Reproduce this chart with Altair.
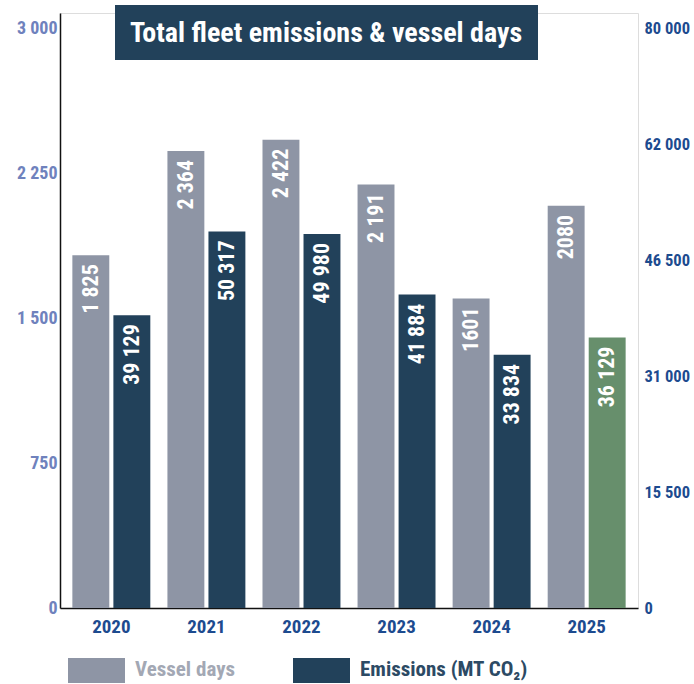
import altair as alt
import pandas as pd

# ---- data -------------------------------------------------------------
YEARS = ["2020", "2021", "2022", "2023", "2024", "2025"]
VESSEL_DAYS = [1825, 2364, 2422, 2191, 1601, 2080]
VESSEL_LABELS = ["1 825", "2 364", "2 422", "2 191", "1601", "2080"]
EMISSIONS = [39129, 50317, 49980, 41884, 33834, 36129]
EMISSION_LABELS = ["39 129", "50 317", "49 980", "41 884", "33 834", "36 129"]
SERIES = ["Vessel days", "Emissions (MT CO₂)"]

LEFT_TICKS = [0, 750, 1500, 2250, 3000]
RIGHT_TICKS = [0, 15500, 31000, 46500, 62000, 77500]
RIGHT_TOP_LABEL = "80 000"
TITLE = "Total fleet emissions & vessel days"
CURRENT_YEAR = "2025"

# ---- style ------------------------------------------------------------
FONT = "'Roboto Condensed', 'Liberation Sans Narrow', 'DejaVu Sans Condensed', sans-serif"
GREY = "#8e95a5"
NAVY = "#22415a"
GREEN = "#678f6c"
LEFT_LABEL = "#6f82bd"
RIGHT_LABEL = "#1d4b8f"

W, H = 578, 595

vessel_df = pd.DataFrame({"year": YEARS, "value": VESSEL_DAYS,
                          "label": VESSEL_LABELS, "series": SERIES[0]})
emis_df = pd.DataFrame({"year": YEARS, "value": EMISSIONS,
                        "label": EMISSION_LABELS, "series": SERIES[1]})

space_fmt = "replace(format(datum.value, ','), ',', ' ')"

x_enc = alt.X(
    "year:N",
    sort=YEARS,
    scale=alt.Scale(paddingInner=0.18, paddingOuter=0.13),
    axis=alt.Axis(title=None, labelAngle=0, ticks=False, domainColor="#111111",
                  domainWidth=1.5, labelColor=RIGHT_LABEL, labelFontSize=19,
                  labelFontWeight="bold", labelPadding=9, labelFont=FONT),
)
xoff_enc = alt.XOffset(
    "series:N",
    scale=alt.Scale(domain=SERIES, paddingInner=0.1, paddingOuter=0),
)

left_y = alt.Y(
    "value:Q",
    scale=alt.Scale(domain=[0, 3000 * H / 580], nice=False),
    axis=alt.Axis(title=None, values=LEFT_TICKS, grid=False, ticks=False,
                  domainColor="#111111", domainWidth=1.5, labelColor=LEFT_LABEL,
                  labelFontSize=18, labelFontWeight="bold", labelPadding=3,
                  labelFont=FONT, labelExpr=space_fmt),
)
right_y = alt.Y(
    "value:Q",
    scale=alt.Scale(domain=[0, 77500 * H / 580], nice=False),
    axis=alt.Axis(title=None, orient="right", values=RIGHT_TICKS, grid=False,
                  ticks=False, domain=False, labelColor=RIGHT_LABEL,
                  labelFontSize=16.5, labelFontWeight="bold", labelPadding=6,
                  labelFont=FONT,
                  labelExpr=f"datum.value == 77500 ? '{RIGHT_TOP_LABEL}' : {space_fmt}"),
)

label_style = dict(angle=270, align="right", baseline="middle", dx=-9,
                   color="white", fontSize=22, fontWeight="bold", font=FONT)

vessel_base = alt.Chart(vessel_df).encode(x=x_enc, xOffset=xoff_enc, y=left_y)
vessel_layer = alt.layer(
    vessel_base.mark_bar(color=GREY),
    vessel_base.mark_text(**label_style).encode(text="label:N"),
)

emis_base = alt.Chart(emis_df).encode(x=x_enc, xOffset=xoff_enc, y=right_y)
emis_layer = alt.layer(
    emis_base.mark_bar().encode(
        color=alt.condition(alt.datum.year == CURRENT_YEAR,
                            alt.value(GREEN), alt.value(NAVY))
    ),
    emis_base.mark_text(**label_style).encode(text="label:N"),
)

# ---- title banner and legend (placed in pixel space) ------------------
blank = alt.Chart(pd.DataFrame({"k": [0]}))

banner = blank.mark_rect(color=NAVY).encode(
    x=alt.value(55), x2=alt.value(478), y=alt.value(-8), y2=alt.value(47)
)
banner_text = blank.mark_text(
    text=TITLE, color="white", fontSize=28, fontWeight="bold", font=FONT,
    align="center", baseline="middle"
).encode(x=alt.value(266), y=alt.value(21))

legend_vessel_box = blank.mark_rect(color=GREY).encode(
    x=alt.value(8), x2=alt.value(65), y=alt.value(645), y2=alt.value(670)
)
legend_vessel_text = blank.mark_text(
    text=SERIES[0], color="#a3a8b4", fontSize=21, fontWeight="bold", font=FONT,
    align="left", baseline="middle"
).encode(x=alt.value(75), y=alt.value(657))
legend_emis_box = blank.mark_rect(color=NAVY).encode(
    x=alt.value(233), x2=alt.value(290), y=alt.value(645), y2=alt.value(670)
)
legend_emis_text = blank.mark_text(
    text=SERIES[1], color="#2c4a64", fontSize=21, fontWeight="bold", font=FONT,
    align="left", baseline="middle"
).encode(x=alt.value(300), y=alt.value(657))

chart = alt.layer(
    vessel_layer, emis_layer,
    banner, banner_text,
    legend_vessel_box, legend_vessel_text, legend_emis_box, legend_emis_text,
).resolve_scale(y="independent").properties(
    width=W, height=H,
    autosize=alt.AutoSizeParams(type="none"),
    padding={"left": 60, "top": 13, "right": 56, "bottom": 76},
    background="white",
).configure_view(stroke=None).configure(font=FONT)

chart.save("out.html", embed_options={"renderer": "svg", "actions": False})
